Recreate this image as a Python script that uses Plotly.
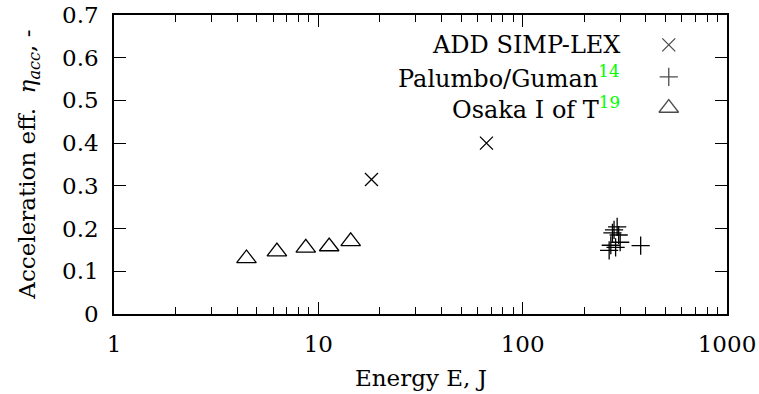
import plotly.graph_objects as go

# ---- data ----
add_E = [18.2, 66.5]
add_eta = [0.315, 0.400]

pal_E = [290, 280, 275, 300, 270, 285, 265, 295, 378]
pal_eta = [0.204, 0.197, 0.190, 0.168, 0.161, 0.156, 0.149, 0.185, 0.160]

osa_E = [4.45, 6.27, 8.68, 11.3, 14.4]
osa_eta = [0.130, 0.146, 0.155, 0.158, 0.170]

x_ticks = [1, 10, 100, 1000]
x_ticktext = ["1", "10", "100", "1000"]
y_ticks = [0, 0.1, 0.2, 0.3, 0.4, 0.5, 0.6, 0.7]
y_ticktext = ["0", "0.1", "0.2", "0.3", "0.4", "0.5", "0.6", "0.7"]

legend_names = ["ADD SIMP-LEX",
                "Palumbo/Guman<sup><span style='color:#00ff00'>14</span></sup>",
                "Osaka I of T<sup><span style='color:#00ff00'>19</span></sup>"]
legend_symbols = ["x-thin-open", "cross-thin-open", "triangle-up-open"]
legend_sizes = [13, 13, 17]

FONT = "DejaVu Serif"
FS = 23
BLACK = "#000000"

fig = go.Figure()
fig.add_trace(go.Scatter(x=add_E, y=add_eta, mode="markers",
                         marker=dict(symbol="x-thin-open", size=13, color=BLACK,
                                     line=dict(width=1.3, color=BLACK))))
fig.add_trace(go.Scatter(x=pal_E, y=pal_eta, mode="markers",
                         marker=dict(symbol="cross-thin-open", size=13, color=BLACK,
                                     line=dict(width=1.3, color=BLACK))))
fig.add_trace(go.Scatter(x=osa_E, y=osa_eta, mode="markers",
                         marker=dict(symbol="triangle-up-open", size=17, color=BLACK,
                                     line=dict(width=1.3, color=BLACK))))

leg_y = [0.9, 0.793, 0.689]
for name, yy in zip(legend_names, leg_y):
    fig.add_annotation(x=0.829, y=yy, xref="paper", yref="paper", text=name,
                       showarrow=False, xanchor="right", yanchor="middle",
                       font=dict(family=FONT, size=24, color=BLACK))
fig.add_trace(go.Scatter(x=[0.905] * 3, y=leg_y, xaxis="x2", yaxis="y2",
                         mode="markers",
                         marker=dict(symbol=legend_symbols, size=legend_sizes,
                                     color=BLACK, line=dict(width=1.3, color=BLACK))))

fig.add_annotation(x=0.5, y=-0.214, xref="paper", yref="paper",
                   text="Energy E, J", showarrow=False,
                   xanchor="center", yanchor="middle",
                   font=dict(family=FONT, size=FS, color=BLACK))
fig.add_annotation(x=-0.140, y=0.5, xref="paper", yref="paper",
                   text="Acceleration eff.  <i>η<sub>acc</sub></i>, -",
                   showarrow=False, textangle=-90,
                   xanchor="center", yanchor="middle",
                   font=dict(family=FONT, size=FS, color=BLACK))

minor_vals = [m * 10 ** k for k in range(3) for m in range(2, 10)]

fig.update_layout(
    width=759, height=394,
    margin=dict(l=114, r=32, t=15, b=80),
    paper_bgcolor="white", plot_bgcolor="white",
    showlegend=False,
    font=dict(family=FONT, size=FS, color=BLACK),
    xaxis=dict(type="log", range=[0, 3], automargin=False,
               tickvals=x_ticks, ticktext=x_ticktext,
               tickfont=dict(family=FONT, size=FS),
               ticks="inside", ticklen=12, tickwidth=1.2, tickcolor=BLACK,
               minor=dict(tickvals=minor_vals, ticks="inside", ticklen=7,
                          tickwidth=1.2, tickcolor=BLACK, showgrid=False),
               showline=True, linecolor=BLACK, linewidth=1.5, mirror="allticks",
               showgrid=False, zeroline=False, ticklabelstandoff=9),
    yaxis=dict(range=[0, 0.7], tickvals=y_ticks, ticktext=y_ticktext,
               automargin=False,
               tickfont=dict(family=FONT, size=FS),
               ticks="inside", ticklen=12, tickwidth=1.2, tickcolor=BLACK,
               showline=True, linecolor=BLACK, linewidth=1.5, mirror="allticks",
               showgrid=False, zeroline=False, ticklabelstandoff=9),
    xaxis2=dict(overlaying="x", range=[0, 1], visible=False),
    yaxis2=dict(overlaying="y", range=[0, 1], visible=False),
)

fig.write_html("out.html")
